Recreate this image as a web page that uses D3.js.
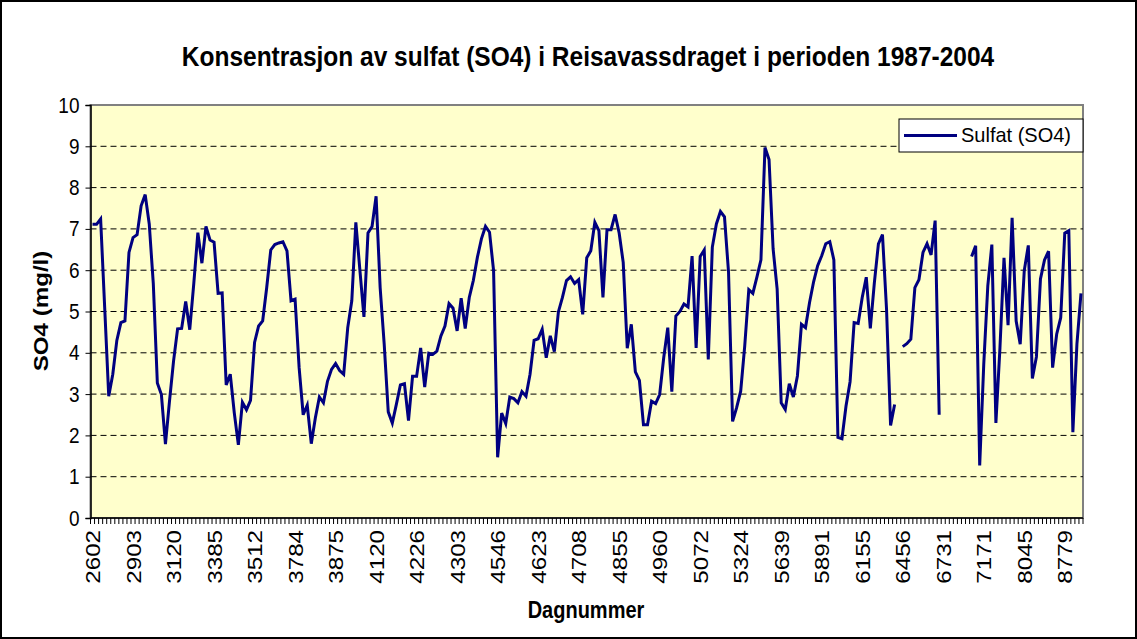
<!DOCTYPE html>
<html><head><meta charset="utf-8">
<script src="https://cdn.jsdelivr.net/npm/d3@7"></script>
<style>body{margin:0;background:#fff} svg text{font-family:Arial,"Liberation Sans",sans-serif}</style>
</head><body><svg id="c" width="1137" height="639"></svg>
<script>
const titleText = "Konsentrasjon av sulfat (SO4) i Reisavassdraget i perioden 1987-2004";
const yTitle = "SO4 (mg/l)";
const xTitle = "Dagnummer";
const seriesName = "Sulfat (SO4)";
// day-number labels shown on every 10th category
const tickLabels = ["2602","2903","3120","3385","3512","3784","3875","4120","4226","4303","4546","4623","4708","4855","4960","5072","5324","5639","5891","6155","6456","6731","7171","8045","8779"];
const yTicks = [0,1,2,3,4,5,6,7,8,9,10];
const sulfat = [
7.11,7.11,7.24,5.10,2.95,3.48,4.30,4.73,4.77,6.43,
6.79,6.86,7.56,7.83,7.12,5.68,3.27,2.99,1.79,2.83,
3.80,4.58,4.59,5.24,4.56,5.68,6.91,6.17,7.06,6.73,
6.68,5.44,5.45,3.22,3.48,2.54,1.77,2.80,2.62,2.85,
4.25,4.65,4.77,5.58,6.49,6.62,6.66,6.69,6.47,5.26,
5.30,3.64,2.50,2.73,1.80,2.42,2.93,2.79,3.31,3.60,
3.74,3.57,3.48,4.61,5.26,7.16,6.00,4.87,6.90,7.06,
7.79,5.58,4.21,2.57,2.30,2.75,3.22,3.25,2.36,3.43,
3.43,4.12,3.17,3.99,3.96,4.04,4.41,4.65,5.19,5.08,
4.53,5.32,4.59,5.34,5.75,6.31,6.76,7.06,6.92,5.99,
1.47,2.54,2.29,2.93,2.89,2.79,3.06,2.95,3.48,4.30,
4.34,4.57,3.88,4.41,4.03,4.99,5.34,5.75,5.84,5.68,
5.77,4.93,6.30,6.47,7.16,6.96,5.34,6.98,6.98,7.35,
6.90,6.19,4.11,4.69,3.54,3.33,2.26,2.26,2.83,2.77,
2.99,3.88,4.61,3.06,4.89,5.00,5.18,5.11,6.34,4.12,
6.33,6.49,3.84,6.56,7.12,7.42,7.29,5.95,2.34,2.67,
3.07,4.17,5.53,5.44,5.83,6.25,8.97,8.68,6.52,5.54,
2.79,2.63,3.25,2.93,3.44,4.69,4.61,5.22,5.72,6.11,
6.35,6.64,6.69,6.25,1.95,1.92,2.71,3.30,4.73,4.71,
5.34,5.83,4.59,5.70,6.64,6.86,5.06,2.24,2.75,null,
4.15,4.22,4.33,5.58,5.77,6.43,6.64,6.37,7.20,2.50,
null,null,null,null,null,null,null,6.33,6.59,1.27,
3.72,5.62,6.62,2.30,4.12,6.30,4.67,7.27,4.77,4.21,
5.99,6.60,3.38,3.90,5.79,6.25,6.46,3.64,4.45,4.85,
6.90,6.96,2.08,4.21,5.44
];

const svg = d3.select("#c");
const W = 1137, H = 639;
const P = {left: 90.5, right: 1083, top: 105, bottom: 518};
const SY = 1.15; // vertical stretch of glyphs seen in the reference

svg.append("rect").attr("x",1).attr("y",1).attr("width",W-2).attr("height",H-2)
  .attr("fill","#fff").attr("stroke","#000").attr("stroke-width",2);

const idx = sulfat.map((d,i)=>i);
const x = d3.scaleBand().domain(idx).range([P.left, P.right]).padding(0);
const y = d3.scaleLinear().domain([0,10]).range([P.bottom, P.top]);

svg.append("rect").attr("x",P.left).attr("y",P.top).attr("width",P.right-P.left).attr("height",P.bottom-P.top)
  .attr("fill","#FFFFCC").attr("stroke","#808080").attr("stroke-width",2);

svg.append("g").selectAll("line").data(yTicks.filter(t=>t>0 && t<10)).join("line")
  .attr("x1",P.left).attr("x2",P.right).attr("y1",d=>y(d)).attr("y2",d=>y(d))
  .attr("stroke","#000").attr("stroke-width",1).attr("stroke-dasharray","6,4");

const yAxis = svg.append("g").attr("transform",`translate(${P.left},0)`)
  .call(d3.axisLeft(y).tickValues(yTicks).tickSize(5).tickPadding(6).tickFormat(d3.format("d")));
yAxis.select(".domain").attr("stroke","#000").attr("stroke-width",1.5);
yAxis.selectAll(".tick line").attr("stroke","#000");
yAxis.selectAll(".tick text").attr("font-size",19).attr("fill","#000")
  .style("font-family","Arial, 'Liberation Sans', sans-serif")
  .attr("dy",null).attr("transform",`translate(0,7) scale(1,${SY})`).attr("y",0);

const bounds = idx.concat([idx.length]);
const xg = svg.append("g");
xg.append("line").attr("x1",P.left).attr("x2",P.right).attr("y1",P.bottom).attr("y2",P.bottom).attr("stroke","#000").attr("stroke-width",1.5);
xg.selectAll("line.tk").data(bounds).join("line").attr("class","tk")
  .attr("x1",d=> d<idx.length ? x(d) : P.right).attr("x2",d=> d<idx.length ? x(d) : P.right)
  .attr("y1",P.bottom).attr("y2",P.bottom+6).attr("stroke","#000").attr("stroke-width",1);
const labelIdx = idx.filter(i=> i%10===0);
xg.selectAll("text.xl").data(labelIdx).join("text").attr("class","xl")
  .attr("transform",d=>`translate(${x(d)+x.bandwidth()/2+7.5},${P.bottom+12}) rotate(-90) scale(${SY},1)`)
  .attr("text-anchor","end").attr("font-size",21).attr("fill","#000")
  .text(d=>tickLabels[d/10]);

const line = d3.line().defined(d=>d!=null).x((d,i)=>x(i)+x.bandwidth()/2).y(d=>y(d));
svg.append("path").datum(sulfat).attr("d",line).attr("fill","none")
  .attr("stroke","#000080").attr("stroke-width",3).attr("stroke-linejoin","miter");

svg.append("text").attr("transform",`translate(588,66) scale(1,${SY*0.95})`).attr("text-anchor","middle")
  .attr("font-size",24.5).attr("font-weight","bold").text(titleText);
svg.append("text").attr("transform",`translate(586,618) scale(1,${SY})`).attr("text-anchor","middle")
  .attr("font-size",20).attr("font-weight","bold").text(xTitle);
svg.append("text").attr("transform",`translate(48,311) rotate(-90) scale(${SY},1)`).attr("text-anchor","middle")
  .attr("font-size",21).attr("font-weight","bold").text(yTitle);

const lg = svg.append("g");
lg.append("rect").attr("x",899).attr("y",119).attr("width",184).attr("height",33)
  .attr("fill","#fff").attr("stroke","#000").attr("stroke-width",1);
lg.append("line").attr("x1",904).attr("x2",957).attr("y1",135.5).attr("y2",135.5)
  .attr("stroke","#000080").attr("stroke-width",3);
lg.append("text").attr("transform",`translate(961,142) scale(1,1.05)`).attr("font-size",20).attr("fill","#000").text(seriesName);
</script></body></html>
